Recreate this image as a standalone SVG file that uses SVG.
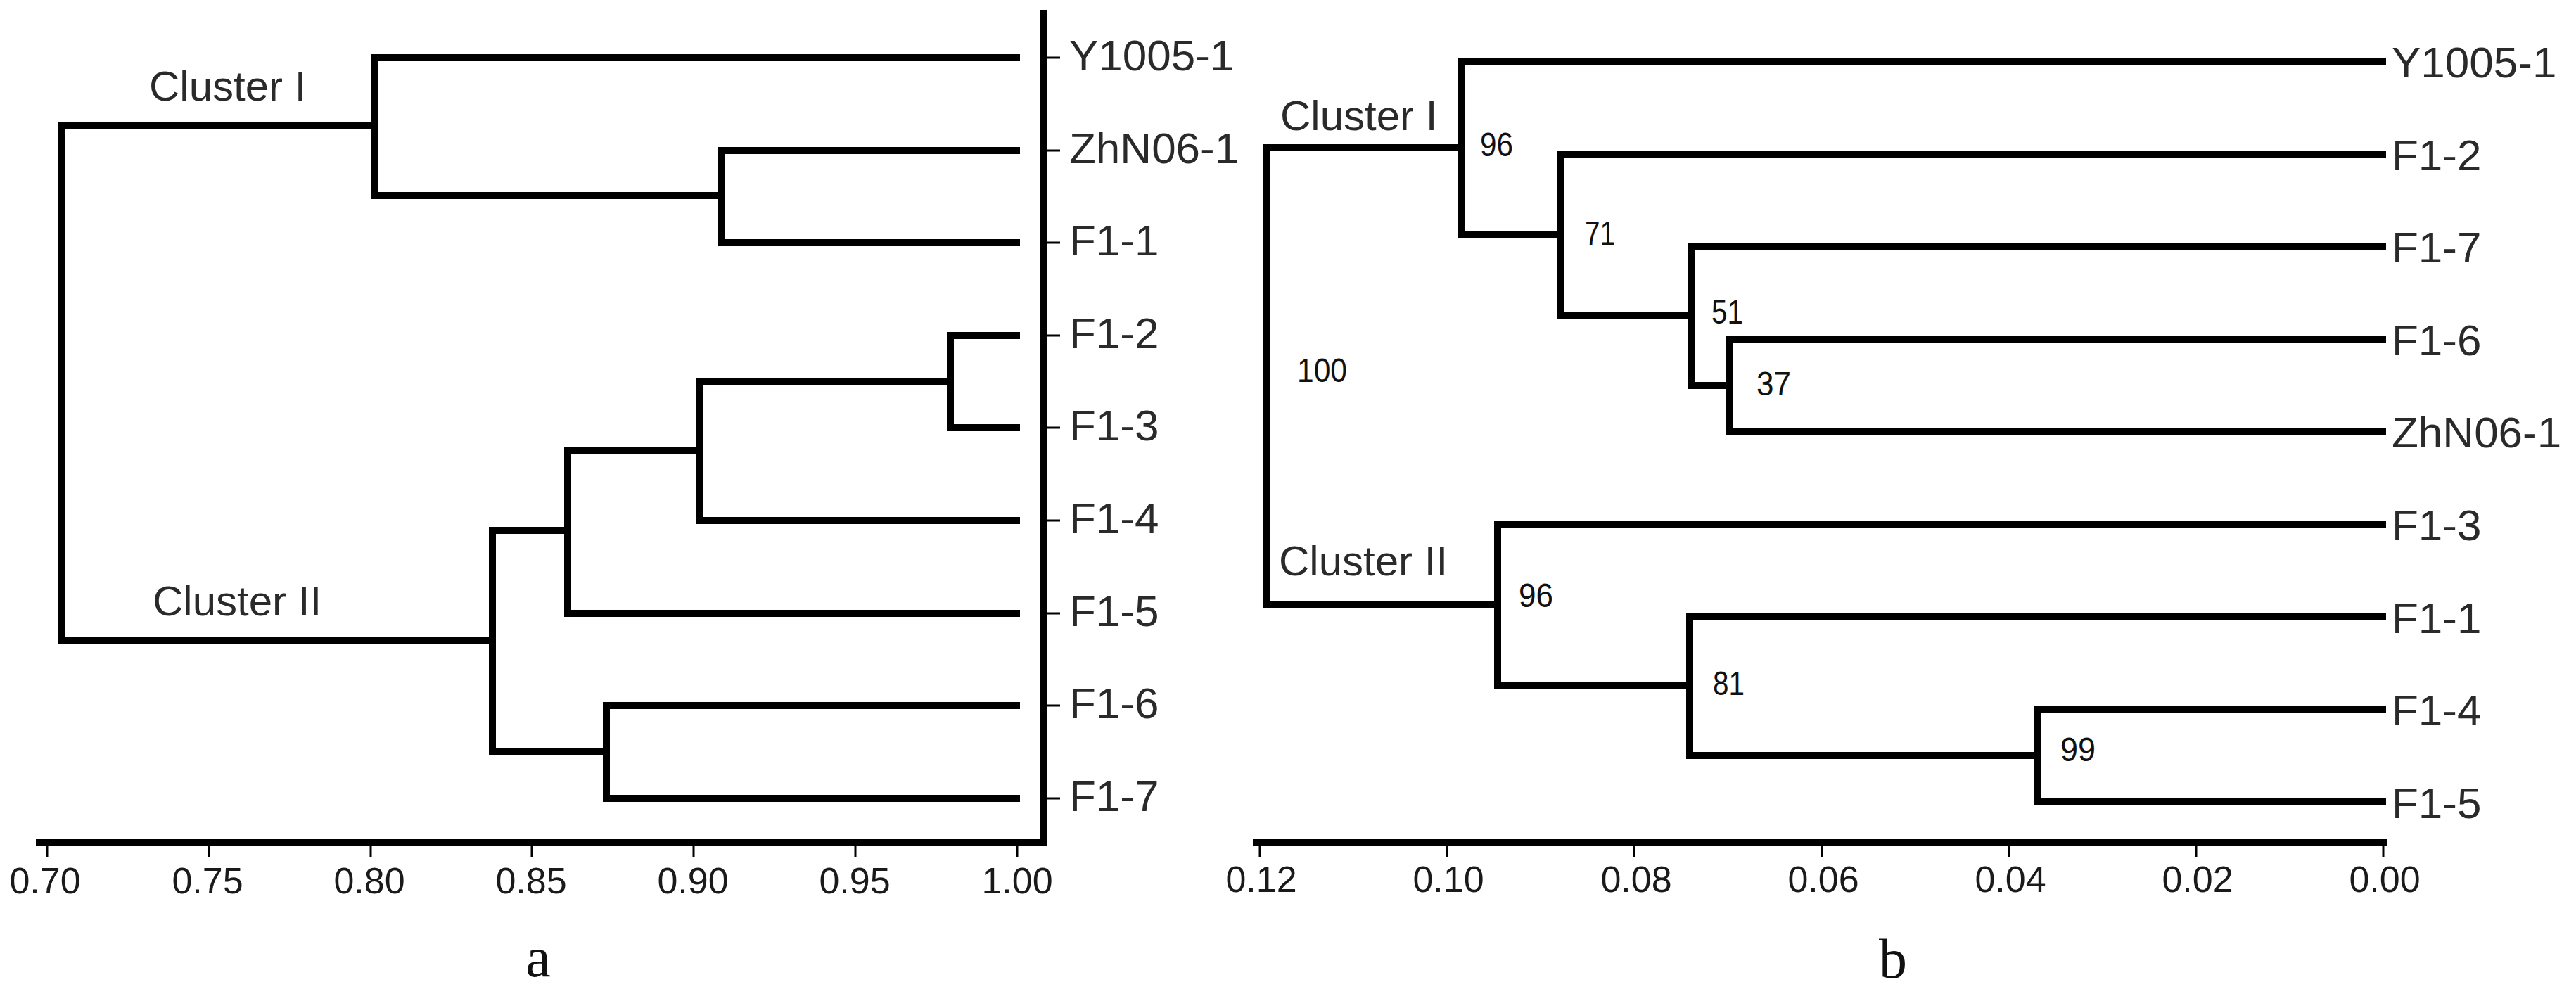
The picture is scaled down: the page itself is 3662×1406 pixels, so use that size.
<svg xmlns="http://www.w3.org/2000/svg" width="3662" height="1406" viewBox="0 0 3662 1406">
<style>
.br{fill:none;stroke:#000;stroke-width:10;stroke-linejoin:miter;stroke-linecap:butt}
.ax{fill:none;stroke:#000;stroke-width:10}
.tk{stroke:#000;stroke-width:3}
.lb{font-family:"Liberation Sans",Arial,sans-serif;font-size:62px;fill:#2a2a2a}
.cl{font-family:"Liberation Sans",Arial,sans-serif;font-size:60px;fill:#2a2a2a}
.tl{font-family:"Liberation Sans",Arial,sans-serif;font-size:52px;fill:#1a1a1a;text-anchor:middle}
.bs{font-family:"Liberation Sans",Arial,sans-serif;font-size:49px;fill:#111}
.pl{font-family:"Liberation Serif","Times New Roman",serif;font-size:80px;fill:#111;text-anchor:middle}
</style>
<rect width="3662" height="1406" fill="#fff"/>

<!-- Panel a -->
<g id="connectors-a">
  <path class="br" d="M533 179 H88 V911 H700"/>
  <path class="br" d="M1450 82 H533 V278 H1026"/>
  <path class="br" d="M1450 214 H1026 V345 H1450"/>
  <path class="br" d="M807 754 H700 V1069 H862"/>
  <path class="br" d="M995 640 H807 V872 H1450"/>
  <path class="br" d="M1351 543 H995 V740 H1450"/>
  <path class="br" d="M1450 477 H1351 V608 H1450"/>
  <path class="br" d="M1450 1003 H862 V1135 H1450"/>
</g>
<g id="axis-a">
  <path class="ax" d="M51 1198 H1484 V14"/>
  <path class="tk" d="M67 1203 V1218 M297 1203 V1218 M527 1203 V1218 M756 1203 V1218 M986 1203 V1218 M1216 1203 V1218 M1446 1203 V1218"/>
  <path class="tk" d="M1488 82 H1507 M1488 214 H1507 M1488 345 H1507 M1488 477 H1507 M1488 608 H1507 M1488 740 H1507 M1488 872 H1507 M1488 1003 H1507 M1488 1135 H1507"/>
  <text class="tl" x="64" y="1270">0.70</text>
  <text class="tl" x="295" y="1270">0.75</text>
  <text class="tl" x="525" y="1270">0.80</text>
  <text class="tl" x="755" y="1270">0.85</text>
  <text class="tl" x="985" y="1270">0.90</text>
  <text class="tl" x="1215" y="1270">0.95</text>
  <text class="tl" x="1446" y="1270">1.00</text>
</g>
<g id="a-leaf-Y1005-1"><text class="lb" x="1520" y="100">Y1005-1</text></g>
<g id="a-leaf-ZhN06-1"><text class="lb" x="1520" y="232">ZhN06-1</text></g>
<g id="a-leaf-F1-1"><text class="lb" x="1520" y="363">F1-1</text></g>
<g id="a-leaf-F1-2"><text class="lb" x="1520" y="495">F1-2</text></g>
<g id="a-leaf-F1-3"><text class="lb" x="1520" y="626">F1-3</text></g>
<g id="a-leaf-F1-4"><text class="lb" x="1520" y="758">F1-4</text></g>
<g id="a-leaf-F1-5"><text class="lb" x="1520" y="890">F1-5</text></g>
<g id="a-leaf-F1-6"><text class="lb" x="1520" y="1021">F1-6</text></g>
<g id="a-leaf-F1-7"><text class="lb" x="1520" y="1153">F1-7</text></g>
<g id="a-cluster1"><text class="cl" x="212" y="143">Cluster I</text></g>
<g id="a-cluster2"><text class="cl" x="217" y="875">Cluster II</text></g>
<g id="a-title"><text class="pl" x="765" y="1388">a</text></g>

<!-- Panel b -->
<g id="connectors-b">
  <path class="br" d="M2078 210 H1800 V860 H2129"/>
  <path class="br" d="M3392 87 H2078 V333 H2218"/>
  <path class="br" d="M3392 219 H2218 V448 H2404"/>
  <path class="br" d="M3392 350 H2404 V548 H2459"/>
  <path class="br" d="M3392 482 H2459 V613 H3392"/>
  <path class="br" d="M3392 745 H2129 V975 H2402"/>
  <path class="br" d="M3392 877 H2402 V1074 H2896"/>
  <path class="br" d="M3392 1008 H2896 V1140 H3392"/>
</g>
<g id="axis-b">
  <path class="ax" d="M1781 1198 H3393"/>
  <path class="tk" d="M1791 1203 V1218 M2057 1203 V1218 M2323 1203 V1218 M2590 1203 V1218 M2856 1203 V1218 M3122 1203 V1218 M3388 1203 V1218"/>
  <text class="tl" x="1793" y="1268">0.12</text>
  <text class="tl" x="2059" y="1268">0.10</text>
  <text class="tl" x="2326" y="1268">0.08</text>
  <text class="tl" x="2592" y="1268">0.06</text>
  <text class="tl" x="2858" y="1268">0.04</text>
  <text class="tl" x="3124" y="1268">0.02</text>
  <text class="tl" x="3390" y="1268">0.00</text>
</g>
<g id="b-leaf-Y1005-1"><text class="lb" x="3400" y="110">Y1005-1</text></g>
<g id="b-leaf-F1-2"><text class="lb" x="3400" y="242">F1-2</text></g>
<g id="b-leaf-F1-7"><text class="lb" x="3400" y="373">F1-7</text></g>
<g id="b-leaf-F1-6"><text class="lb" x="3400" y="505">F1-6</text></g>
<g id="b-leaf-ZhN06-1"><text class="lb" x="3400" y="636">ZhN06-1</text></g>
<g id="b-leaf-F1-3"><text class="lb" x="3400" y="768">F1-3</text></g>
<g id="b-leaf-F1-1"><text class="lb" x="3400" y="900">F1-1</text></g>
<g id="b-leaf-F1-4"><text class="lb" x="3400" y="1031">F1-4</text></g>
<g id="b-leaf-F1-5"><text class="lb" x="3400" y="1163">F1-5</text></g>
<g id="b-cluster1"><text class="cl" x="1820" y="185">Cluster I</text></g>
<g id="b-cluster2"><text class="cl" x="1818" y="818">Cluster II</text></g>
<g id="b-support-100"><text class="bs" x="1844" y="543" textLength="71" lengthAdjust="spacingAndGlyphs">100</text></g>
<g id="b-support-96a"><text class="bs" x="2104" y="222" textLength="47" lengthAdjust="spacingAndGlyphs">96</text></g>
<g id="b-support-71"><text class="bs" x="2253" y="348" textLength="43" lengthAdjust="spacingAndGlyphs">71</text></g>
<g id="b-support-51"><text class="bs" x="2433" y="460" textLength="45" lengthAdjust="spacingAndGlyphs">51</text></g>
<g id="b-support-37"><text class="bs" x="2497" y="562" textLength="49" lengthAdjust="spacingAndGlyphs">37</text></g>
<g id="b-support-96b"><text class="bs" x="2159" y="863" textLength="49" lengthAdjust="spacingAndGlyphs">96</text></g>
<g id="b-support-81"><text class="bs" x="2435" y="988" textLength="45" lengthAdjust="spacingAndGlyphs">81</text></g>
<g id="b-support-99"><text class="bs" x="2929" y="1082" textLength="50" lengthAdjust="spacingAndGlyphs">99</text></g>
<g id="b-title"><text class="pl" x="2691" y="1390">b</text></g>
</svg>
